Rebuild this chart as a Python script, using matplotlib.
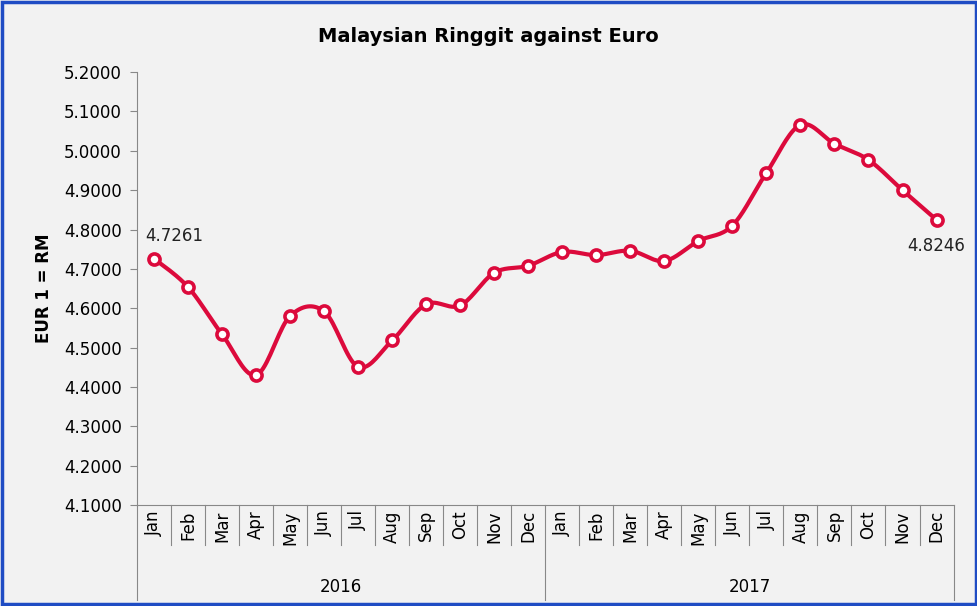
import matplotlib
matplotlib.use('Agg')
import matplotlib.pyplot as plt
import matplotlib.transforms as mtransforms
from matplotlib.patches import Rectangle
import numpy as np

# RM per 1 EUR, monthly
months = ['Jan', 'Feb', 'Mar', 'Apr', 'May', 'Jun', 'Jul', 'Aug', 'Sep', 'Oct', 'Nov', 'Dec']
years = ['2016', '2017']
rates = [4.7261, 4.654, 4.534, 4.430, 4.580, 4.592, 4.451, 4.518, 4.610, 4.607, 4.690, 4.708,
         4.743, 4.735, 4.746, 4.720, 4.771, 4.810, 4.944, 5.066, 5.018, 4.977, 4.900, 4.8246]
yticks = [4.1, 4.2, 4.3, 4.4, 4.5, 4.6, 4.7, 4.8, 4.9, 5.0, 5.1, 5.2]

red = '#DC0A3C'
bg = '#F2F2F2'
plt.rcParams['font.family'] = ['DejaVu Sans']


def smooth(xs, ys, n=20):
    # Catmull-Rom style curve through the points (like Excel's smoothed line)
    px = np.concatenate([[xs[0]], xs, [xs[-1]]])
    py = np.concatenate([[ys[0]], ys, [ys[-1]]])
    outx, outy = [], []
    t = np.linspace(0, 1, n)
    for i in range(1, len(px) - 2):
        p0, p1, p2, p3 = py[i - 1], py[i], py[i + 1], py[i + 2]
        q0, q1, q2, q3 = px[i - 1], px[i], px[i + 1], px[i + 2]
        # bezier control points
        c1y = p1 + (p2 - p0) / 6
        c2y = p2 - (p3 - p1) / 6
        c1x = q1 + (q2 - q0) / 6
        c2x = q2 - (q3 - q1) / 6
        bx = (1-t)**3*q1 + 3*(1-t)**2*t*c1x + 3*(1-t)*t**2*c2x + t**3*q2
        by = (1-t)**3*p1 + 3*(1-t)**2*t*c1y + 3*(1-t)*t**2*c2y + t**3*p2
        outx.extend(bx)
        outy.extend(by)
    return np.array(outx), np.array(outy)


x = np.arange(len(rates), dtype=float)

fig = plt.figure(figsize=(9.78, 6.06), dpi=100, facecolor=bg)
ax = fig.add_axes([0.140, 0.1667, 0.835, 0.7143])
ax.set_facecolor(bg)

sx, sy = smooth(x, np.array(rates))
ax.plot(sx, sy, color=red, lw=3, solid_capstyle='round', zorder=2)
ax.plot(x, rates, 'o', ms=8, mfc='white', mec=red, mew=2.6, zorder=3)

ax.annotate(f'{rates[0]:.4f}', xy=(x[0], rates[0]), xytext=(-6, 10), textcoords='offset points',
            ha='left', va='bottom', fontsize=12, color='#222222')
ax.annotate(f'{rates[-1]:.4f}', xy=(x[-1], rates[-1]), xytext=(0, -12), textcoords='offset points',
            ha='center', va='top', fontsize=12, color='#222222')

ax.set_xlim(-0.5, len(rates) - 0.5)
ax.set_ylim(4.1, 5.2)
ax.set_yticks(yticks)
ax.set_yticklabels([f'{v:.4f}' for v in yticks], fontsize=12)
ax.tick_params(axis='y', length=5, color='#888888', pad=6)
ax.set_xticks([])
for s in ['top', 'right']:
    ax.spines[s].set_visible(False)
for s in ['left', 'bottom']:
    ax.spines[s].set_color('#888888')
ax.set_ylabel('EUR 1 = RM', fontsize=12, fontweight='bold', labelpad=8)

# two-level category axis
trans = mtransforms.blended_transform_factory(ax.transData, ax.transAxes)
for i in range(len(rates) + 1):
    xb = i - 0.5
    low = -0.22 if i % 12 == 0 else -0.092
    ax.plot([xb, xb], [0, low], color='#888888', lw=0.8, transform=trans, clip_on=False)
for i in range(len(rates)):
    ax.text(x[i], -0.012, months[i % 12], rotation=90, ha='center', va='top',
            fontsize=12, transform=trans)
for j, yr in enumerate(years):
    ax.text(j * 12 + 5.5, -0.19, yr, ha='center', va='center', fontsize=12, transform=trans)

fig.text(0.499, 0.94, 'Malaysian Ringgit against Euro', ha='center', va='center',
         fontsize=14, fontweight='bold')

fig.patches.append(Rectangle((0.002, 0.003), 0.996, 0.994, transform=fig.transFigure,
                             fill=False, edgecolor='#1F4CC4', lw=2.5))

fig.savefig('out.png', dpi=100, facecolor=bg)
